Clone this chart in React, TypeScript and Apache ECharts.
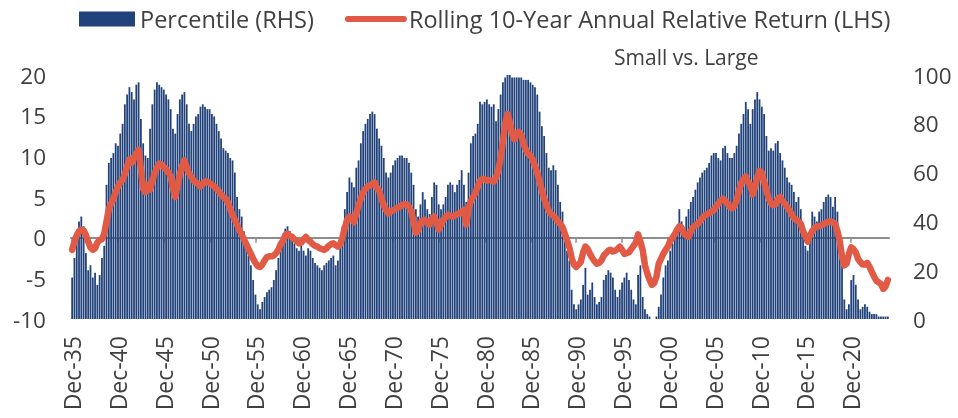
import React, { useEffect, useRef } from "react";
import * as echarts from "echarts";

const FONT = "'Open Sans', 'Noto Sans', sans-serif";

// Quarter labels from Dec-35 to Dec-24
const START_YEAR = 1935;
const QUARTER_NAMES = ["Mar", "Jun", "Sep", "Dec"];

// Rolling 10-Year Annual Relative Return (LHS), quarterly
const relReturn: number[] = [
  -1.5, -0.5, 0.3, 0.8, 1.0, 0.9, 0.3, -0.5, -1.2, -1.5,
  -1.3, -0.6, -0.3, -0.2, 0.5, 2.0, 3.5, 4.2, 4.8, 5.6,
  6.3, 6.8, 7.1, 7.8, 8.8, 9.6, 9.2, 9.9, 10.3, 10.8,
  8.5, 6.0, 5.6, 6.5, 5.9, 7.0, 7.9, 8.6, 9.1, 9.0,
  8.7, 8.4, 8.0, 7.6, 6.0, 5.0, 6.4, 7.8, 8.8, 9.5,
  8.6, 7.9, 7.5, 7.0, 6.8, 6.6, 6.3, 6.6, 6.9, 6.9,
  6.7, 6.5, 6.3, 6.0, 5.7, 5.3, 5.0, 4.8, 4.3, 3.5,
  2.8, 2.2, 1.6, 0.9, 0.4, -0.2, -0.8, -1.4, -2.0, -2.6,
  -3.1, -3.5, -3.6, -3.3, -2.8, -2.4, -2.3, -2.3, -2.2, -1.9,
  -1.5, -0.8, -0.4, 0.3, 0.5, 0.2, 0.1, -0.2, -0.4, -0.7,
  -0.6, -0.2, 0.1, -0.3, -0.5, -0.8, -1.0, -1.1, -1.3, -1.4,
  -1.5, -1.3, -1.0, -0.8, -0.7, -0.9, -1.1, -0.8, 0.1, 1.2,
  2.2, 2.6, 2.4, 1.9, 3.0, 4.0, 4.8, 5.6, 6.0, 6.3,
  6.4, 6.6, 6.8, 6.1, 5.8, 4.8, 4.0, 3.4, 3.0, 3.2,
  3.4, 3.5, 3.7, 3.8, 4.0, 4.1, 4.1, 3.8, 3.3, 2.0,
  0.6, 0.9, 1.8, 2.1, 2.2, 1.8, 1.6, 2.3, 2.6, 1.9,
  1.0, 1.6, 2.2, 2.5, 2.8, 2.7, 2.6, 2.7, 2.9, 3.0,
  3.2, 3.4, 1.6, 3.6, 4.5, 5.0, 5.5, 6.3, 7.0, 7.2,
  7.2, 7.0, 7.1, 7.0, 6.9, 7.4, 8.3, 9.8, 11.8, 14.0,
  15.2, 14.2, 12.8, 12.1, 12.8, 13.0, 12.6, 11.6, 10.8, 10.3,
  10.1, 9.6, 8.8, 8.0, 6.9, 5.8, 4.8, 4.0, 3.3, 2.9,
  2.7, 2.4, 2.0, 1.7, 1.3, 0.5, -0.3, -1.2, -2.5, -3.3,
  -3.6, -3.3, -3.0, -1.8, -1.1, -1.4, -2.0, -2.5, -2.9, -3.2,
  -3.1, -2.8, -2.2, -1.9, -1.6, -1.5, -1.7, -1.6, -1.4, -1.1,
  -1.5, -2.0, -1.9, -1.8, -1.4, -1.0, -0.6, 0.4, -0.5, -1.5,
  -3.4, -4.4, -5.2, -5.8, -5.6, -4.8, -3.2, -2.6, -2.0, -1.5,
  -1.1, -0.4, 0.0, 0.4, 1.0, 1.4, 1.2, 0.5, 0.3, 0.1,
  0.8, 1.3, 1.5, 1.7, 2.0, 2.4, 2.7, 2.9, 3.0, 3.2,
  3.4, 3.8, 4.2, 4.5, 4.8, 4.6, 4.2, 3.8, 3.6, 3.9,
  4.6, 5.8, 6.7, 7.2, 7.5, 6.8, 6.5, 5.3, 6.2, 7.4,
  8.2, 8.0, 6.9, 5.8, 4.8, 4.2, 4.0, 4.1, 4.8, 5.0,
  4.5, 4.2, 3.8, 3.4, 2.9, 2.4, 2.2, 2.0, 1.7, 0.8,
  0.2, -0.5, 0.3, 0.8, 1.2, 1.4, 1.4, 1.5, 1.7, 1.8,
  2.0, 2.0, 1.9, 1.7, 0.8, -0.4, -2.3, -3.4, -3.2, -2.0,
  -1.2, -1.4, -1.8, -2.6, -3.0, -3.3, -3.3, -3.1, -3.6, -4.2,
  -4.8, -5.3, -5.5, -5.7, -6.3, -6.0, -5.2,
];

// Percentile (RHS), quarterly
const percentile: number[] = [
  17, 25, 35, 40, 42, 38, 27, 20, 22, 17,
  19, 14, 18, 25, 30, 55, 64, 66, 68, 72,
  71, 76, 80, 88, 92, 95, 93, 90, 96, 97,
  82, 72, 67, 66, 78, 88, 94, 97, 96, 95,
  94, 92, 90, 86, 78, 76, 84, 90, 92, 93,
  88, 80, 77, 80, 83, 84, 87, 88, 87, 86,
  86, 84, 83, 80, 77, 74, 70, 69, 68, 66,
  65, 60, 50, 45, 42, 36, 30, 26, 22, 16,
  10, 6, 4, 7, 9, 11, 12, 13, 16, 20,
  25, 30, 34, 37, 38, 36, 33, 31, 29, 28,
  30, 28, 26, 29, 28, 25, 23, 22, 21, 20,
  22, 23, 24, 25, 26, 22, 24, 31, 38, 45,
  52, 58, 56, 54, 62, 65, 72, 77, 80, 82,
  84, 85, 84, 78, 74, 71, 66, 60, 58, 60,
  63, 65, 66, 67, 67, 66, 66, 64, 60, 55,
  45, 42, 47, 52, 49, 45, 43, 50, 56, 55,
  47, 45, 47, 50, 55, 56, 55, 52, 55, 57,
  61, 55, 48, 60, 72, 75, 76, 80, 89, 88,
  89, 90, 88, 87, 88, 81, 86, 92, 97, 99,
  100, 100, 99, 99, 99, 99, 99, 98, 98, 98,
  97, 96, 95, 92, 85, 79, 75, 68, 62, 61,
  63, 61, 55, 48, 44, 37, 28, 24, 12, 6,
  4, 6, 8, 14, 21, 10, 12, 15, 9, 6,
  7, 9, 16, 18, 20, 19, 17, 12, 9, 12,
  15, 17, 19, 16, 12, 8, 6, 18, 22, 9,
  4, 2, 1, 0, 0, 1, 5, 10, 17, 22,
  24, 28, 31, 34, 38, 45, 40, 36, 42, 45,
  48, 50, 53, 56, 58, 60, 61, 62, 64, 67,
  68, 68, 66, 65, 70, 71, 68, 66, 66, 68,
  71, 76, 80, 84, 89, 86, 80, 86, 90, 93,
  90, 87, 84, 75, 69, 70, 69, 72, 73, 68,
  65, 62, 58, 56, 55, 52, 48, 50, 45, 36,
  30, 28, 36, 44, 42, 40, 44, 45, 48, 50,
  51, 50, 46, 50, 44, 35, 22, 8, 4, 6,
  16, 18, 14, 8, 4, 5, 6, 5, 3, 2,
  2, 2, 1, 1, 1, 1, 1,
];

const categories: string[] = relReturn.map((_, i) => {
  const k = 3 + i;
  const year = START_YEAR + Math.floor(k / 4);
  return `${QUARTER_NAMES[k % 4]}-${String(year % 100).padStart(2, "0")}`;
});

const LABEL_EVERY = 20;
const leftTicks = { min: -10, max: 20, interval: 5 };
const rightTicks = { min: 0, max: 100, interval: 20 };

export default function App() {
  const ref = useRef<HTMLDivElement>(null);
  useEffect(() => {
    if (!ref.current) return;
    const chart = echarts.init(ref.current, undefined, { renderer: "svg" });
    const textColor = "#404040";
    const showEvery = (idx: number) => idx % LABEL_EVERY === 0;
    chart.setOption({
      animation: false,
      textStyle: { fontFamily: FONT },
      legend: {
        left: 74,
        top: 2,
        itemWidth: 56,
        itemHeight: 15,
        itemGap: 31,
        textStyle: { fontSize: 23.5, color: textColor, fontFamily: FONT },
        data: [
          { name: "Percentile (RHS)", icon: "rect" },
          {
            name: "Rolling 10-Year Annual Relative Return (LHS)",
            lineStyle: { width: 6, cap: "round" },
            itemStyle: { opacity: 0 },
          },
        ],
      },
      graphic: [
        {
          type: "text",
          left: 614,
          top: 46,
          style: {
            text: "Small vs. Large",
            fontSize: 21,
            fill: textColor,
            fontFamily: FONT,
          },
        },
      ],
      grid: { left: 71, right: 69, top: 75, bottom: 99 },
      xAxis: [
        {
          type: "category",
          data: categories,
          boundaryGap: true,
          axisLine: { show: false, onZero: false },
          axisTick: { show: false },
          axisLabel: {
            interval: showEvery,
            rotate: 90,
            fontSize: 23,
            color: textColor,
            margin: 17,
            fontFamily: FONT,
          },
        },
        {
          type: "category",
          data: categories,
          position: "bottom",
          boundaryGap: true,
          axisLine: {
            show: true,
            onZero: true,
            onZeroAxisIndex: 0,
            lineStyle: { color: "#8c8c8c", width: 2 },
          },
          axisTick: {
            show: true,
            interval: showEvery,
            alignWithLabel: true,
            length: 5,
            lineStyle: { color: "#8c8c8c", width: 1.5 },
          },
          axisLabel: { show: false, interval: showEvery },
        },
      ],
      yAxis: [
        {
          type: "value",
          position: "left",
          ...leftTicks,
          splitLine: { show: false },
          axisLine: { show: false },
          axisTick: { show: false },
          axisLabel: { fontSize: 22.5, color: textColor, margin: 25, fontFamily: FONT },
        },
        {
          type: "value",
          position: "right",
          ...rightTicks,
          splitLine: { show: false },
          axisLine: { show: false },
          axisTick: { show: false },
          axisLabel: { fontSize: 22.5, color: textColor, margin: 24, fontFamily: FONT },
        },
      ],
      series: [
        {
          name: "Percentile (RHS)",
          type: "bar",
          xAxisIndex: 0,
          yAxisIndex: 1,
          data: percentile,
          barCategoryGap: "22%",
          itemStyle: { color: "#21427A" },
          z: 1,
        },
        {
          name: "Rolling 10-Year Annual Relative Return (LHS)",
          type: "line",
          xAxisIndex: 0,
          yAxisIndex: 0,
          data: relReturn,
          symbol: "none",
          lineStyle: { color: "#E15A46", width: 6.5, cap: "round", join: "round" },
          itemStyle: { color: "#E15A46" },
          z: 4,
        },
      ],
    });
    return () => chart.dispose();
  }, []);
  return (
    <div
      ref={ref}
      style={{ position: "fixed", left: 0, top: 0, width: 958, height: 418 }}
    />
  );
}
